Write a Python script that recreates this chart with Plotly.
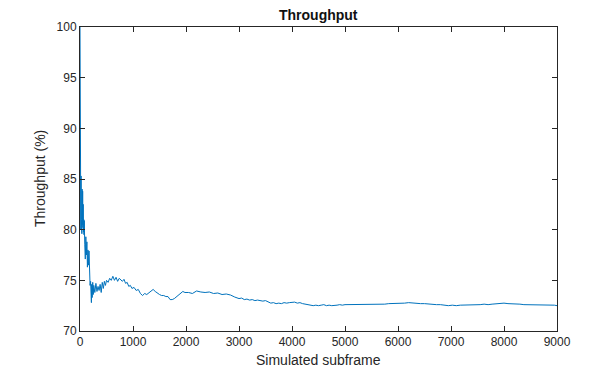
import plotly.graph_objects as go

# Simulated subframe index (x) and cumulative throughput in % (y)
subframe = [
    0, 5, 10, 15, 20, 25, 30, 35, 40, 45, 50, 55, 60, 65, 70, 75, 80, 90, 100,
    110, 120, 130, 140, 150, 160, 170, 180, 190, 200, 210, 215, 220, 230, 240, 250,
    260, 280, 300, 320, 340, 360, 380, 400, 420, 440, 460, 480, 500,
    530, 560, 590, 620, 650, 680, 710, 740, 770, 800, 830, 860, 890, 920, 950, 980,
    1020, 1060, 1100, 1140, 1180, 1220, 1260, 1300, 1340, 1380, 1420, 1460, 1500,
    1540, 1580, 1620, 1660, 1700, 1740, 1780, 1820, 1860, 1900, 1940, 1980,
    2050, 2120, 2200, 2280, 2360, 2440, 2520, 2600, 2680, 2760, 2840, 2920, 3000,
    3050, 3100, 3150, 3200, 3250, 3300, 3350, 3400, 3450, 3500, 3550, 3600, 3650,
    3700, 3750, 3800, 3850, 3900, 3950, 4000, 4050, 4100, 4150, 4200, 4250, 4300,
    4350, 4400, 4450, 4500, 4550, 4600, 4650, 4700, 4750, 4800, 4850, 4900, 4950,
    5000, 5075, 5150, 5225, 5300, 5375, 5450, 5525, 5600, 5675, 5750, 5825, 5900,
    5975, 6050, 6125, 6200, 6275, 6350, 6425, 6500, 6575, 6650, 6725, 6800, 6875,
    6950, 7025, 7100, 7175, 7250, 7325, 7400, 7475, 7550, 7625, 7700, 7775, 7850,
    7925, 8000, 8075, 8150, 8225, 8300, 8375, 8450, 8525, 8600, 8675, 8750, 8825,
    8900, 8950, 9000,
]
throughput = [
    100, 89.5, 84.0, 80.0, 85.3, 81.0, 83.5, 79.6, 84.0, 80.5, 83.8, 80.2, 82.5, 79.8, 81.0, 79.5, 80.9, 78.5, 77.1,
    79.3, 77.5, 78.8, 76.3, 78.0, 76.5, 77.9, 75.5, 74.5, 74.9, 73.5, 72.8, 74.6, 73.3, 74.8, 73.6,
    74.5, 73.8, 74.7, 73.9, 74.4, 74.0, 74.6, 73.8, 74.8, 74.2, 74.9, 74.5, 75.0,
    74.8, 75.2, 75.0, 75.4, 75.0, 75.3, 74.9, 75.2, 75.0, 74.9, 75.1, 74.7, 74.8, 74.4, 74.5, 74.2,
    74.3, 74.0, 74.1, 73.7, 73.5, 73.7, 73.6, 73.8, 74.0, 74.1, 73.9, 73.7, 73.6,
    73.5, 73.5, 73.4, 73.4, 73.1, 73.1, 73.2, 73.4, 73.5, 73.7, 73.9, 73.8,
    73.8, 73.7, 73.95, 73.85, 73.8, 73.85, 73.7, 73.75, 73.6, 73.65, 73.55, 73.35, 73.2,
    73.25, 73.1, 73.15, 73.05, 73.1, 73.0, 73.05, 73.0, 72.95, 73.0, 72.85, 72.75, 72.8,
    72.7, 72.75, 72.7, 72.8, 72.75, 72.8, 72.8, 72.85, 72.75, 72.8, 72.7, 72.65, 72.6,
    72.55, 72.5, 72.55, 72.5, 72.55, 72.6, 72.5, 72.55, 72.5, 72.5, 72.55, 72.6, 72.55,
    72.6, 72.6, 72.65, 72.6, 72.6, 72.65, 72.6, 72.65, 72.6, 72.6, 72.65, 72.7, 72.7,
    72.75, 72.7, 72.75, 72.8, 72.75, 72.75, 72.7, 72.7, 72.65, 72.65, 72.6, 72.6, 72.55,
    72.5, 72.55, 72.5, 72.55, 72.55, 72.6, 72.55, 72.6, 72.6, 72.65, 72.6, 72.65, 72.7,
    72.7, 72.75, 72.7, 72.7, 72.65, 72.65, 72.6, 72.6, 72.6, 72.55, 72.6, 72.55, 72.55,
    72.6, 72.55, 72.5,
]

x_ticks = [0, 1000, 2000, 3000, 4000, 5000, 6000, 7000, 8000, 9000]
y_ticks = [70, 75, 80, 85, 90, 95, 100]

FONT = "Liberation Sans, Arial, sans-serif"
AXC = "#262626"

fig = go.Figure()
fig.add_trace(go.Scatter(
    x=subframe, y=throughput, mode="lines",
    line=dict(color="#0072BD", width=1),
    showlegend=False, hoverinfo="skip",
))

axis_common = dict(
    showgrid=False, zeroline=False, showline=True, linecolor=AXC, linewidth=1,
    mirror="ticks", ticks="inside", ticklen=5, tickwidth=1, tickcolor=AXC,
    tickfont=dict(family=FONT, size=12, color=AXC),
)

fig.update_layout(
    width=615, height=371,
    margin=dict(l=80, r=58, t=27, b=40),
    paper_bgcolor="white", plot_bgcolor="white",
    font=dict(family=FONT, color=AXC),
    xaxis=dict(range=[0, 9000], tickvals=x_ticks, ticktext=[str(v) for v in x_ticks], **axis_common),
    yaxis=dict(range=[70, 100], tickvals=y_ticks, ticktext=[str(v) for v in y_ticks], **axis_common),
    annotations=[
        dict(text="<b>Throughput</b>", xref="paper", yref="paper", x=0.5, y=1, yshift=12,
             showarrow=False, xanchor="center", yanchor="middle",
             font=dict(family=FONT, size=14, color="#111111")),
        dict(text="Simulated subframe", xref="paper", yref="paper", x=0.5, y=0, yshift=-29,
             showarrow=False, xanchor="center", yanchor="middle",
             font=dict(family=FONT, size=14, color=AXC)),
        dict(text="Throughput (%)", xref="paper", yref="paper", x=0, y=0.5, xshift=-40,
             showarrow=False, xanchor="center", yanchor="middle", textangle=-90,
             font=dict(family=FONT, size=14, color=AXC)),
    ],
)

fig.write_html("out.html", config={"displayModeBar": False},
               post_script="document.body.style.margin='0';")
